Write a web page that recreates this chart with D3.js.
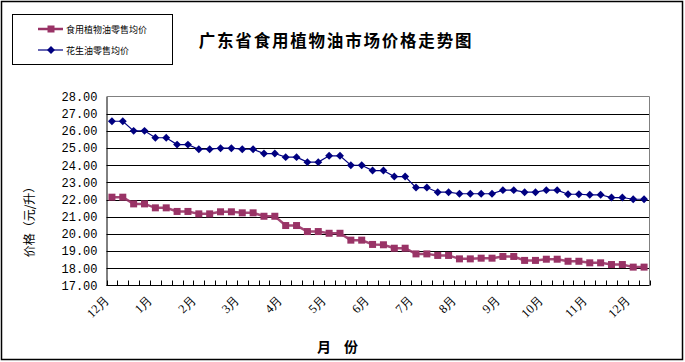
<!DOCTYPE html>
<html><head><meta charset="utf-8">
<script src="https://cdn.jsdelivr.net/npm/d3@7/dist/d3.min.js"></script>
<style>body{margin:0;background:#fff}</style>
</head><body>
<svg id="c" width="685" height="362"></svg>
<script>
const title = "广东省食用植物油市场价格走势图";
const seriesNames = ["食用植物油零售均价", "花生油零售均价"];
const monthLabels = ["12月","1月","2月","3月","4月","5月","6月","7月","8月","9月","10月","11月","12月"];
const yTicks = [17,18,19,20,21,22,23,24,25,26,27,28];
const vegOil = [22.14,22.14,21.75,21.75,21.52,21.52,21.31,21.31,21.17,21.17,21.29,21.29,21.23,21.23,21.03,21.03,20.49,20.49,20.14,20.14,20.04,20.04,19.64,19.64,19.39,19.37,19.17,19.17,18.84,18.84,18.75,18.75,18.55,18.55,18.59,18.59,18.69,18.69,18.46,18.46,18.53,18.53,18.41,18.41,18.32,18.32,18.22,18.22,18.07,18.07];
const peanutOil = [26.56,26.56,26.0,26.0,25.6,25.6,25.2,25.2,24.93,24.93,24.99,24.99,24.93,24.93,24.68,24.68,24.47,24.47,24.18,24.18,24.55,24.55,24.0,24.0,23.69,23.69,23.34,23.34,22.70,22.70,22.43,22.43,22.34,22.34,22.34,22.34,22.55,22.55,22.43,22.43,22.55,22.55,22.31,22.31,22.28,22.28,22.12,22.12,22.02,22.02];

const svg = d3.select("#c");
const L = 106.5, R = 649.5, T = 96.5, B = 285.5;
const idx = d3.range(vegOil.length);
const x = d3.scaleBand().domain(idx).range([L, R]);
const y = d3.scaleLinear().domain([17, 28]).range([B, T]);

// outer frame
svg.append("rect").attr("x",1.5).attr("y",1.5).attr("width",681).attr("height",358)
  .attr("fill","#fff").attr("stroke","#000").attr("stroke-width",1.5);

// gridlines
svg.append("g").selectAll("line").data(yTicks.filter(d=>d>17 && d<28)).join("line")
  .attr("x1",L).attr("x2",R).attr("y1",d=>Math.round(y(d))+0.5).attr("y2",d=>Math.round(y(d))+0.5)
  .attr("stroke","#000").attr("stroke-width",1);
// top and right border gray
svg.append("line").attr("x1",L).attr("x2",R).attr("y1",T).attr("y2",T).attr("stroke","#808080");
svg.append("line").attr("x1",R).attr("x2",R).attr("y1",T).attr("y2",B).attr("stroke","#808080");

// y axis
const yAxis = d3.axisLeft(y).tickValues(yTicks).tickSize(0).tickPadding(9).tickFormat(d3.format(".2f"));
const gy = svg.append("g").attr("transform",`translate(${L},0)`).call(yAxis);
gy.select(".domain").attr("stroke","#000");
gy.selectAll("text").attr("font-family","Liberation Mono, monospace").attr("font-size","12px").attr("fill","#000");

// x axis with inside ticks at category boundaries
const gx = svg.append("g");
gx.append("line").attr("x1",L).attr("x2",R).attr("y1",B).attr("y2",B).attr("stroke","#000");
gx.selectAll("line.t").data(d3.range(vegOil.length+1)).join("line").attr("class","t")
  .attr("x1",d=>Math.round(L + d*x.bandwidth())+0.5).attr("x2",d=>Math.round(L + d*x.bandwidth())+0.5)
  .attr("y1",B).attr("y2",B-5).attr("stroke","#000");
gx.selectAll("text").data(monthLabels).join("text")
  .attr("transform",(d,i)=>`translate(${x(i*4)+x.bandwidth()/2-2},${B+15}) rotate(-45)`)
  .attr("text-anchor","end").attr("font-family","Liberation Serif, serif").attr("font-size","12.5px").attr("fill","#000")
  .text(d=>d);

// lines
const line = d3.line().x((d,i)=>x(i)+x.bandwidth()/2).y(d=>y(d));
svg.append("path").datum(vegOil).attr("d",line).attr("fill","none").attr("stroke","#993366").attr("stroke-width",2.5).attr("stroke-opacity",0.9);
svg.append("g").selectAll("rect").data(vegOil).join("rect")
  .attr("x",(d,i)=>x(i)+x.bandwidth()/2-3.5).attr("y",d=>y(d)-3.5).attr("width",7).attr("height",7).attr("fill","#993366");
svg.append("path").datum(peanutOil).attr("d",line).attr("fill","none").attr("stroke","#000080").attr("stroke-width",1.2);
svg.append("g").selectAll("path").data(peanutOil).join("path")
  .attr("d",d3.symbol(d3.symbolDiamond2 || d3.symbolDiamond, 40))
  .attr("transform",(d,i)=>`translate(${x(i)+x.bandwidth()/2},${y(d)})`).attr("fill","#000080");

// title
svg.append("text").attr("x",336).attr("y",47).attr("text-anchor","middle")
  .attr("font-family","Noto Sans CJK SC, sans-serif").attr("font-weight","bold").attr("font-size","16.5px")
  .attr("letter-spacing","1.8px").attr("fill","#000").text(title);

// y label
svg.append("text").attr("transform","translate(34,219) rotate(-90)").attr("text-anchor","middle")
  .attr("font-family","Noto Sans CJK SC, sans-serif").attr("font-size","12px").attr("fill","#000").text("价格（元/升）");

// x title
svg.append("text").attr("x",344).attr("y",352).attr("text-anchor","middle")
  .attr("font-family","Noto Sans CJK SC, sans-serif").attr("font-weight","bold").attr("font-size","14px")
  .attr("letter-spacing","13px").attr("fill","#000").text("月份");

// legend
const lg = svg.append("g");
lg.append("rect").attr("x",12.5).attr("y",14.5).attr("width",160).attr("height",50).attr("fill","#fff").attr("stroke","#000");
lg.append("line").attr("x1",38).attr("x2",63).attr("y1",29).attr("y2",29).attr("stroke","#993366").attr("stroke-width",2.5);
lg.append("rect").attr("x",47.5).attr("y",25.5).attr("width",7).attr("height",7).attr("fill","#993366");
lg.append("text").attr("x",66).attr("y",32.5).attr("font-family","Noto Sans CJK SC, sans-serif").attr("font-size","9px").attr("fill","#000").text(seriesNames[0]);
lg.append("line").attr("x1",38).attr("x2",63).attr("y1",50).attr("y2",50).attr("stroke","#000080").attr("stroke-width",1.2);
lg.append("path").attr("d",d3.symbol(d3.symbolDiamond2 || d3.symbolDiamond, 40)).attr("transform","translate(51,50)").attr("fill","#000080");
lg.append("text").attr("x",66).attr("y",53.5).attr("font-family","Noto Sans CJK SC, sans-serif").attr("font-size","9px").attr("fill","#000").text(seriesNames[1]);
</script>
</body></html>
